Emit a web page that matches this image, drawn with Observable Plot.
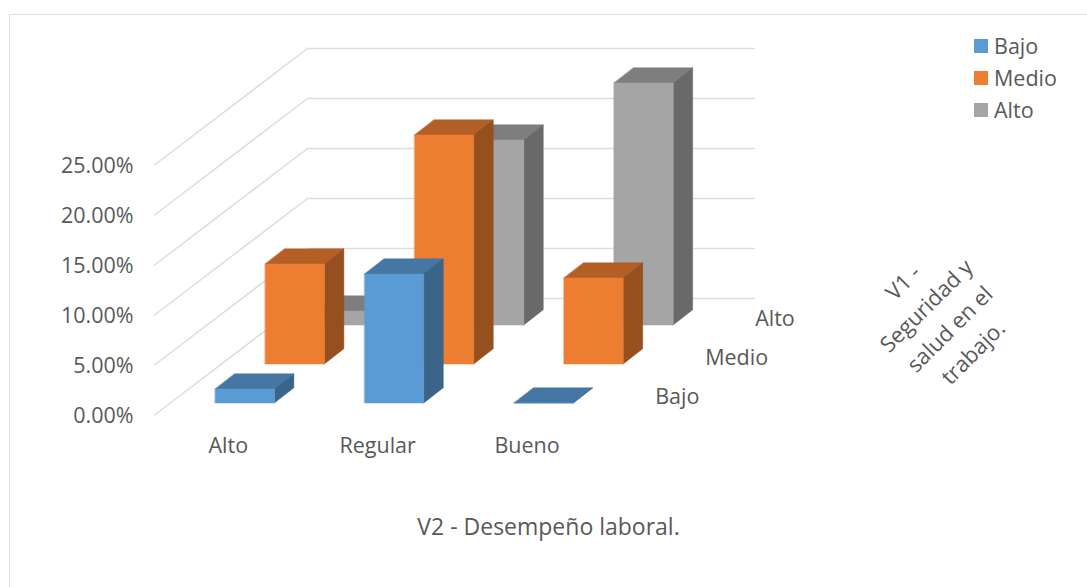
<!DOCTYPE html>
<html lang="es">
<head>
<meta charset="utf-8">
<script src="https://cdn.jsdelivr.net/npm/d3@7"></script>
<script src="https://cdn.jsdelivr.net/npm/@observablehq/plot@0.6"></script>
<style>
  html, body { margin: 0; padding: 0; background: #fff; overflow: hidden; }
  #wrap { position: relative; width: 1087px; height: 587px; }
  #frame { position: absolute; left: 9px; top: 14px; right: 0; bottom: 0;
           border-left: 1.5px solid #DDDDDD; border-top: 1.5px solid #DDDDDD; pointer-events: none; }
  #legend { position: absolute; left: 974px; top: 30px; font: 21.5px "Open Sans", sans-serif; color: #595959; }
  #legend div { display: flex; align-items: center; height: 32px; }
  #legend i { display: block; width: 14px; height: 14px; margin-right: 6px; }
  #legend span { position: relative; top: -0.5px; }
</style>
</head>
<body>
<div id="wrap"><div id="frame"></div><div id="legend"></div></div>
<script>
// Data (percent)
const categories = ["Alto", "Regular", "Bueno"];          // V2 - Desempeño laboral.
const seriesNames = ["Bajo", "Medio", "Alto"];            // V1 - depth rows, front to back
const bajoValues  = [1.4, 12.9, 0];
const medioValues = [10.0, 22.9, 8.6];
const altoValues  = [1.4, 18.5, 24.2];
const tickValues  = [0, 5, 10, 15, 20, 25];
const tickLabels  = ["0.00%", "5.00%", "10.00%", "15.00%", "20.00%", "25.00%"];
const xTitle = "V2 - Desempeño laboral.";
const zTitle = "V1 -\nSeguridad y\nsalud en el\ntrabajo.";

const seriesValues = [bajoValues, medioValues, altoValues];
const faceFront = ["#5B9BD5", "#ED7D31", "#A5A5A5"];
const faceTop   = ["#4676A3", "#B45F26", "#7E7E7E"];
const faceSide  = ["#3B6489", "#964F1E", "#696969"];

// Oblique projection: one depth row shifts right and up by these amounts
const shiftX = 0.3347, shiftY = 3.9;
const barWidth = 0.396, barDepth = 0.39;
const project = (u, d, v) => ({x: u + d * shiftX, y: v + d * shiftY});

function poly(points, fill) {
  return Plot.line(points, {x: "x", y: "y", fill, stroke: fill, strokeWidth: 0.5, curve: "linear-closed"});
}

// Back wall and side wall gridlines
const gridMarks = tickValues.map(v => Plot.line(
  [project(-0.303, -0.3077, v), project(-0.2789, 2.679, v), project(2.713, 2.679, v)],
  {x: "x", y: "y", stroke: "#DDDDDD", strokeWidth: 1.5}
));

// Bars: back row first, so that nearer rows cover it
const barMarks = [];
for (let r = seriesNames.length - 1; r >= 0; r--) {
  categories.forEach((c, i) => {
    const v = seriesValues[r][i];
    const x0 = i, x1 = i + barWidth, d0 = r, d1 = r + barDepth;
    barMarks.push(
      poly([project(x0, d0, v), project(x1, d0, v), project(x1, d1, v), project(x0, d1, v)], faceTop[r]),
      poly([project(x1, d0, 0), project(x1, d1, 0), project(x1, d1, v), project(x1, d0, v)], faceSide[r]),
      poly([project(x0, d0, 0), project(x1, d0, 0), project(x1, d0, v), project(x0, d0, v)], faceFront[r])
    );
  });
}

const textStyle = {fill: "#595959", fontSize: 21.5};

const yTickMark = Plot.text(tickValues.map((v, i) => ({...project(-0.303, -0.3077, v), label: tickLabels[i]})),
  {x: "x", y: "y", text: "label", textAnchor: "end", dx: -21, dy: 1, ...textStyle});

const catMark = Plot.text(categories.map((c, i) => ({...project(i + barWidth / 2, 0, 0), label: c})),
  {x: "x", y: "y", text: "label", dx: -16.5, dy: 43, ...textStyle});

const rowMark = Plot.text(seriesNames.map((s, r) => ({...project(categories.length - 1 + barWidth, r, 0), label: s})),
  {x: "x", y: "y", text: "label", textAnchor: "start", dx: 82, dy: -6, ...textStyle});

const xTitleMark = Plot.text([xTitle], {x: [2.231], y: [-12.45], text: d => d, ...textStyle, fontSize: 23});
const zTitleMark = Plot.text([zTitle], {x: [4.825], y: [8.75], text: d => d, rotate: -45, lineHeight: 1.5, ...textStyle, fontSize: 22});

const chart = Plot.plot({
  width: 1087, height: 587,
  marginTop: 0, marginRight: 0, marginBottom: 0, marginLeft: 0,
  style: {fontFamily: '"Open Sans", sans-serif', background: "transparent"},
  x: {axis: null, domain: [-214.7 / 149.4, (1087 - 214.7) / 149.4], range: [0, 1087]},
  y: {axis: null, domain: [(402.5 - 587) / 10, 40.25], range: [587, 0]},
  marks: [...gridMarks, ...barMarks, yTickMark, catMark, rowMark, xTitleMark, zTitleMark]
});
chart.style.display = "block";
document.getElementById("wrap").prepend(chart);

// Legend, built from the same series arrays
const legend = d3.select("#legend");
seriesNames.forEach((s, r) => {
  const row = legend.append("div");
  row.append("i").style("background", faceFront[r]);
  row.append("span").text(s);
});
</script>
</body>
</html>
